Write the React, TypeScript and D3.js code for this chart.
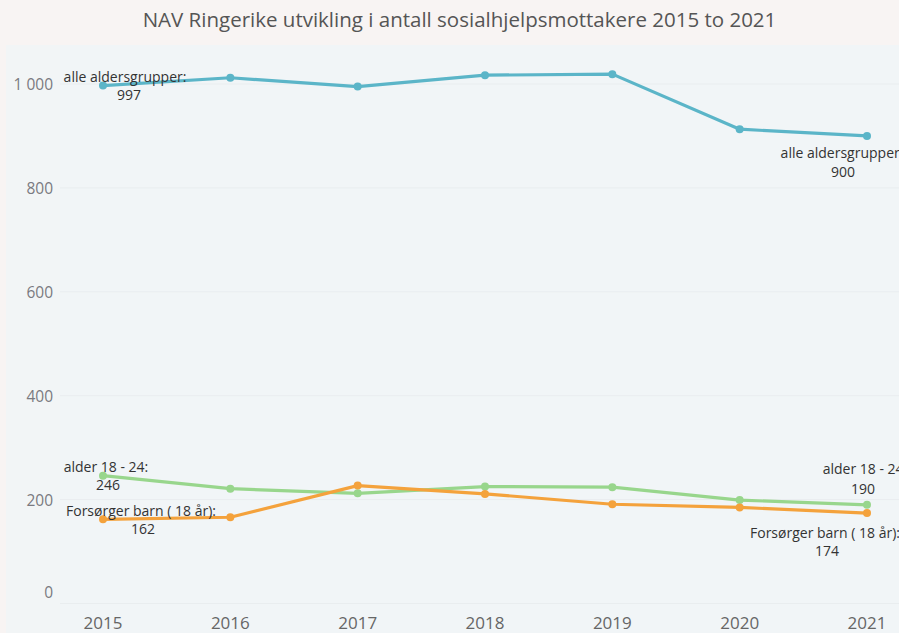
import React from "react";
import * as d3 from "d3";

const years = [2015, 2016, 2017, 2018, 2019, 2020, 2021];
const alleAldersgrupper = [997, 1012, 995, 1017, 1019, 913, 900];
const alder1824 = [246, 221, 212, 225, 224, 199, 190];
const forsorgerBarn = [162, 166, 227, 211, 191, 185, 174];
const yTicks = [0, 200, 400, 600, 800, 1000];
const title = "NAV Ringerike utvikling i antall sosialhjelpsmottakere 2015 to 2021";

const W = 899;
const H = 633;
const FONT = "'Open Sans', Lato, sans-serif";

const series = [
  { name: "alder 18 - 24", values: alder1824, color: "#98d68c" },
  { name: "Forsørger barn ( 18 år)", values: forsorgerBarn, color: "#f4a23c" },
  { name: "alle aldersgrupper", values: alleAldersgrupper, color: "#5bb5c8" },
];

export default function App() {
  const x = d3.scaleLinear().domain([2015, 2021]).range([103, 867]);
  const y = d3.scaleLinear().domain([0, 1000]).range([603.5, 84]);
  const line = d3
    .line<number>()
    .x((_, i) => x(years[i]))
    .y((d) => y(d));
  const fmt = (v: number) => d3.format(",")(v).replace(/,/g, " ");

  const last = years.length - 1;
  const labels = [
    // left side
    { t: "alle aldersgrupper:", cx: x(years[0]) + 22, cy: y(alleAldersgrupper[0]) - 9 },
    { t: String(alleAldersgrupper[0]), cx: x(years[0]) + 26, cy: y(alleAldersgrupper[0]) + 9 },
    { t: "alder 18 - 24:", cx: x(years[0]) + 3, cy: y(alder1824[0]) - 9 },
    { t: String(alder1824[0]), cx: x(years[0]) + 5, cy: y(alder1824[0]) + 9 },
    { t: "Forsørger barn ( 18 år):", cx: x(years[0]) + 38, cy: y(forsorgerBarn[0]) - 9 },
    { t: String(forsorgerBarn[0]), cx: x(years[0]) + 40, cy: y(forsorgerBarn[0]) + 9 },
    // right side
    { t: "alle aldersgrupper:", cx: x(years[last]) - 25, cy: y(alleAldersgrupper[last]) + 17 },
    { t: String(alleAldersgrupper[last]), cx: x(years[last]) - 24, cy: y(alleAldersgrupper[last]) + 36 },
    { t: "alder 18 - 24:", cx: x(years[last]) - 2, cy: y(alder1824[last]) - 36 },
    { t: String(alder1824[last]), cx: x(years[last]) - 4, cy: y(alder1824[last]) - 16 },
    { t: "Forsørger barn ( 18 år):", cx: x(years[last]) - 42, cy: y(forsorgerBarn[last]) + 19 },
    { t: String(forsorgerBarn[last]), cx: x(years[last]) - 40, cy: y(forsorgerBarn[last]) + 37 },
  ];

  return (
    <svg
      width={W}
      height={H}
      style={{ position: "absolute", left: 0, top: 0, display: "block" }}
      fontFamily={FONT}
    >
      <rect x={0} y={0} width={W} height={H} fill="#f8f4f3" />
      <rect x={6} y={45} width={W - 6} height={H - 45} fill="#f2f5f6" />
      <rect x={60} y={45} width={W - 60} height={H - 45} fill="#f1f5f7" />
      <text
        x={459.5}
        y={19}
        textAnchor="middle"
        dominantBaseline="central"
        fontSize={20.5}
        fill="#555"
      >
        {title}
      </text>
      {yTicks.map((v) => (
        <line key={"g" + v} x1={60} x2={W} y1={y(v)} y2={y(v)} stroke="#e9edef" strokeWidth={1} />
      ))}
      {yTicks.map((v) => (
        <text
          key={"yt" + v}
          x={53}
          y={Math.min(y(v), y(0) - 12)}
          textAnchor="end"
          dominantBaseline="central"
          fontSize={15.5}
          fill="#7a7a80"
        >
          {fmt(v)}
        </text>
      ))}
      {years.map((yr) => (
        <text
          key={"xt" + yr}
          x={x(yr)}
          y={622.5}
          textAnchor="middle"
          dominantBaseline="central"
          fontSize={17}
          fill="#666"
        >
          {yr}
        </text>
      ))}
      {series.map((s) => (
        <g key={s.name}>
          <path d={line(s.values) || ""} fill="none" stroke={s.color} strokeWidth={3.2} strokeLinejoin="round" />
          {s.values.map((v, i) => (
            <circle key={i} cx={x(years[i])} cy={y(v)} r={4} fill={s.color} />
          ))}
        </g>
      ))}
      {labels.map((l, i) => (
        <text
          key={"l" + i}
          x={l.cx}
          y={l.cy}
          textAnchor="middle"
          dominantBaseline="central"
          fontSize={14}
          fill="#333"
        >
          {l.t}
        </text>
      ))}
    </svg>
  );
}
